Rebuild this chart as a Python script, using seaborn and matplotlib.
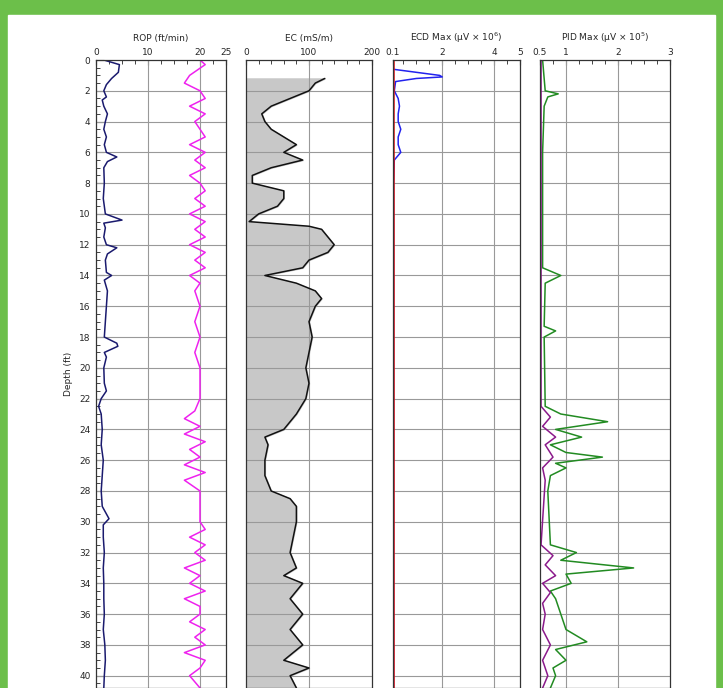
import matplotlib
matplotlib.use("Agg")
import matplotlib.pyplot as plt
import seaborn as sns
import numpy as np
import pandas as pd
from matplotlib.patches import Rectangle
from matplotlib.ticker import MultipleLocator

rop_depth = [0,0.3,0.8,1.2,1.6,2.0,2.4,2.6,3.0,3.5,4.0,4.5,5.0,5.5,6.0,6.3,6.6,7.0,8.0,9.0,10.0,10.4,10.6,10.9,11.5,12.0,12.2,12.6,13.0,13.8,14.0,14.3,15.0,16.0,17.0,18.0,18.4,18.6,19.0,19.3,20.0,21.0,21.5,22.0,22.5,23.0,24.0,25.0,26.0,27.0,28.0,29.0,29.8,30.2,31.0,32.0,33.0,34.0,35.0,36.0,37.0,38.0,39.0,40.0,40.8]
rop_vals = [1.5,4.5,4.3,3,2,1.5,2,1.2,1.5,2.2,1.8,1.5,2,1.6,2,4.0,2.2,1.5,1.6,1.4,1.8,5.0,1.5,1.8,1.5,2,4.0,2.2,1.8,2,3.0,1.6,2.2,2,1.8,1.6,4,4.2,1.6,2,1.5,1.6,2,1.0,0.5,1.0,1.2,1.0,1.4,1.2,1.0,1.2,2.5,1.4,1.4,1.6,1.4,1.5,1.5,1.6,1.4,1.7,1.8,1.6,1.5]
mag_depth = [0,0.3,1.0,1.5,2.0,2.5,3.0,3.5,4.0,4.5,5.0,5.5,6.0,6.5,7.0,7.5,8.0,8.5,9.0,9.5,10.0,10.5,11.0,11.5,12.0,12.5,13.0,13.5,14.0,14.5,15.0,16.0,17.0,18.0,19.0,20.0,21.0,22.0,22.8,23.3,23.8,24.3,24.8,25.3,25.8,26.3,26.8,27.3,28,29,30,30.5,31,31.5,32,32.5,33,33.5,34,34.5,35,35.5,36,36.5,37,37.5,38,38.5,39,39.5,40,40.8]
mag_vals = [20,21,18,17,20,21,18,21,19,20,21,18,21,19,21,18,20,21,19,21,18,21,19,21,18,21,19,21,18,20,19,20,19,20,19,20,20,20,19,17,20,17,21,18,20,17,21,17,20,20,20,21,18,21,19,21,17,20,18,21,17,20,20,18,21,19,21,17,21,20,18,20]
ec_depth = [1.2,1.5,2.0,2.5,3.0,3.5,4.0,4.5,5.0,5.5,6.0,6.5,7.0,7.5,8.0,8.5,9.0,9.5,10.0,10.5,10.8,11.0,11.5,12.0,12.5,13.0,13.5,14.0,14.5,15.0,15.5,16.0,17.0,18.0,19.0,20.0,21.0,22.0,23.0,24.0,24.5,25.0,26.0,27.0,28.0,28.5,29.0,30.0,31.0,32.0,33.0,33.5,34.0,35.0,36.0,37.0,38.0,39.0,39.5,40.0,40.8]
ec_vals = [125,110,100,70,40,25,30,40,60,80,60,90,40,10,10,60,60,50,20,5,100,120,130,140,130,100,90,30,80,110,120,110,100,105,100,95,100,95,80,60,30,35,30,30,40,70,80,80,75,70,80,60,90,70,90,70,90,60,100,70,80]
ecd_depth = [0,0.6,0.8,1.0,1.1,1.2,1.4,2.0,2.5,3.0,3.5,4.0,4.5,5.0,5.5,6.0,6.5,8,12,20,30,40.8]
ecd_vals = [0.1,0.1,1.0,1.9,2.0,1.0,0.2,0.15,0.3,0.35,0.3,0.3,0.4,0.3,0.3,0.4,0.15,0.12,0.12,0.12,0.12,0.12]
red_depth = [0,40.8]
red_vals = [0.12,0.12]
pid_depth = [0,2.0,2.2,2.4,3,6,10,13.5,14,14.5,17.3,17.6,18,22.5,23,23.5,24,24.5,25,25.5,25.8,26.2,26.5,27,28,31.5,32,32.5,33,33.4,34,34.5,35,36,37,37.8,38.3,39,39.5,40,40.8]
pid_vals = [0.55,0.6,0.85,0.65,0.58,0.55,0.55,0.55,0.9,0.6,0.58,0.8,0.58,0.6,0.9,1.8,0.8,1.3,0.7,1.0,1.7,0.8,1.0,0.7,0.65,0.7,1.2,0.9,2.3,1.0,1.1,0.7,0.8,0.9,1.0,1.4,0.8,1.0,0.75,0.8,0.7]
pur_depth = [0,22.5,23.2,23.8,24.5,25,25.8,26.5,27.3,31.5,32.2,32.8,33.5,34,34.6,35.3,36,37,38,39,40,40.8]
pur_vals = [0.52,0.52,0.7,0.55,0.8,0.6,0.75,0.55,0.6,0.52,0.75,0.6,0.8,0.55,0.7,0.55,0.6,0.55,0.7,0.55,0.65,0.55]

sns.set_style("white")
plt.rcParams['font.family'] = ['DejaVu Sans']
fig = plt.figure(figsize=(7.23, 6.88), dpi=100, facecolor='#6cbf4a')
fig.patches.append(Rectangle((8/723, 0), 707/723, 673/688, transform=fig.transFigure, facecolor='white', zorder=-1))

top = (688-60)/688
specs = [
    (96, 130, (0, 25), [0, 10, 20, 25], 2.5, "ROP (ft/min)", [10, 20]),
    (246, 126, (0, 200), [0, 100, 200], 20, "EC (mS/m)", [100]),
    (393, 127, (0.1, 5), [0.1, 2, 4, 5], 0.5, "ECD Max (μV \u00d7 10$^6$)", [2, 4]),
    (540, 130, (0.5, 3), [0.5, 1, 2, 3], 0.25, "PID Max (μV \u00d7 10$^5$)", [1, 2]),
]
axes = []
for i, (x0, w, xl, ticks, minor, title, grid) in enumerate(specs):
    ax = fig.add_axes([x0/723, 0, w/723, top])
    ax.set_xlim(*xl)
    ax.set_ylim(40.8, 0)
    ax.xaxis.tick_top()
    ax.set_xticks(ticks)
    ax.set_xticklabels([f"{t:g}" for t in ticks], fontsize=6.5)
    ax.xaxis.set_minor_locator(MultipleLocator(minor))
    ax.tick_params(axis='x', which='both', direction='in', top=True, bottom=False, pad=2)
    ax.tick_params(axis='x', which='minor', length=3)
    ax.set_title(title, fontsize=6.5, pad=14)
    for g in grid:
        ax.axvline(g, color='#999999', lw=0.8, zorder=1)
    for d in range(2, 41, 2):
        ax.axhline(d, color='#999999', lw=0.8, zorder=1)
    ax.yaxis.set_major_locator(MultipleLocator(2))
    ax.yaxis.set_minor_locator(MultipleLocator(0.5))
    if i == 0:
        ax.tick_params(axis='y', which='both', direction='in', left=True, labelsize=6.5, pad=4)
        ax.tick_params(axis='y', which='major', length=6)
        ax.tick_params(axis='y', which='minor', length=3)
    else:
        ax.set_yticklabels([])
        ax.tick_params(axis='y', which='both', left=False)
    for s in ax.spines.values():
        s.set_color('#333333'); s.set_linewidth(0.9)
    axes.append(ax)

def line(ax, d, v, c):
    df = pd.DataFrame({"d": d, "v": v})
    sns.lineplot(data=df, x="v", y="d", orient="y", sort=False, color=c, lw=1.1, ax=ax)
    ax.lines[-1].set_zorder(2)
    ax.set_xlabel("")
    ax.set_ylabel("")

line(axes[0], rop_depth, rop_vals, '#1a1a6e')
line(axes[0], mag_depth, mag_vals, '#ee22ee')
axes[1].fill_betweenx(ec_depth, 0, ec_vals, color='#c8c8c8', zorder=0.5)
line(axes[1], ec_depth, ec_vals, '#111111')
line(axes[2], ecd_depth, ecd_vals, '#2222ee')
line(axes[2], red_depth, red_vals, '#ee1111')
line(axes[3], pid_depth, pid_vals, '#228b22')
line(axes[3], pur_depth, pur_vals, '#8b1a8b')
axes[0].set_ylabel("Depth (ft)", fontsize=6.5)

fig.savefig("out.png", dpi=100, facecolor=fig.get_facecolor())
